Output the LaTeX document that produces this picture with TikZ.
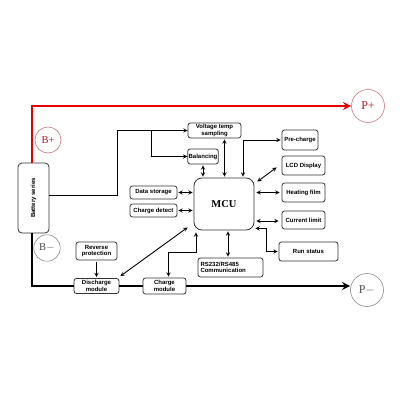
\documentclass[tikz,border=0pt]{standalone}
\usepackage{fontspec}
\setmainfont{Liberation Serif}
\newfontfamily\boxfont{Liberation Sans}
\usepackage{tikz}

\definecolor{plusred}{RGB}{170,30,45}
\definecolor{ringred}{RGB}{200,120,130}

\begin{document}
\begin{tikzpicture}[x=1pt,y=-1pt,>=stealth,
		box/.style={draw=black!80, line width=0.8pt, rounded corners=2.5pt, inner sep=1pt, align=center, font=\boxfont\fontsize{6}{6.5}\selectfont\bfseries},
		ring/.style={draw, circle, line width=0.6pt},
		link/.style={line width=0.9pt},
		rail/.style={line width=2.6pt}]
		\useasboundingbox (0,0) rectangle (400,400);
		% terminals
		\node[ring, draw=ringred, minimum size=26pt, text=plusred, font=\fontsize{10.5}{10}\selectfont] (bplus) at (48,140) {B+};
		\node[ring, draw=black!45, minimum size=26pt, text=black!70, font=\fontsize{10.5}{10}\selectfont] (bminus) at (47,248) {B$-$};
		\node[ring, draw=ringred, minimum size=33pt, text=plusred, font=\fontsize{12}{12}\selectfont] (pplus) at (368,106) {P+};
		\node[ring, draw=black!45, minimum size=33pt, text=black!70, font=\fontsize{12}{12}\selectfont] (pminus) at (367,290) {P$-$};
		% blocks
		\node[box, minimum width=31pt, minimum height=70pt, rounded corners=4pt] (bat) at (33.5,198) {\rotatebox{90}{Battery series}};
		\node[box, minimum width=60pt, minimum height=52pt, rounded corners=8pt, font=\fontsize{10.5}{10}\selectfont\bfseries] (mcu) at (224,204) {MCU};
		\node[box, minimum width=53pt, minimum height=15pt] (vts) at (214.5,130.5) {Voltage temp\\sampling};
		\node[box, minimum width=28pt, minimum height=15pt] (bal) at (203,156.5) {Balancing};
		\node[box, minimum width=47pt, minimum height=13pt] (ds) at (153.5,192.5) {Data storage};
		\node[box, minimum width=47pt, minimum height=13pt] (cd) at (153.5,210.5) {Charge detect};
		\node[box, minimum width=36pt, minimum height=20pt] (pre) at (300,140) {Pre-charge};
		\node[box, minimum width=43pt, minimum height=19pt] (lcd) at (303.5,165.5) {LCD Display};
		\node[box, minimum width=43pt, minimum height=19pt] (heat) at (303.5,192.5) {Heating film};
		\node[box, minimum width=43pt, minimum height=18pt] (cur) at (303.5,220) {Current limit};
		\node[box, minimum width=59pt, minimum height=19pt] (run) at (308.5,251.5) {Run status};
		\node[box, minimum width=65pt, minimum height=19pt, align=left, text width=60pt] (rs) at (230.5,267.5) {RS232/RS485\\Communication};
		\node[box, minimum width=41pt, minimum height=18pt] (rev) at (96.5,251) {Reverse\\protection};
		\node[box, minimum width=45pt, minimum height=15pt] (dis) at (96.5,286) {Discharge\\module};
		\node[box, minimum width=43pt, minimum height=16pt] (chg) at (164.5,286) {Charge\\module};
		% power rails
		\draw[rail, red!90!black, ->] ([xshift=-1.5pt]bat.north) |- (pplus.west);
		\draw[rail] ([xshift=-1.5pt]bat.south) |- (dis.west);
		\draw[rail] (dis.east) -- (chg.west);
		\draw[rail, ->] (chg.east) -- (chg.east -| pminus.west);
		% sampling lines
		\draw[link, ->] ([yshift=3pt]bat.east) -- ++(68,0) |- (vts.west);
		\draw[link, ->] ([xshift=-36pt]vts.west) |- (bal.west);
		% MCU links
		\draw[link, <->] ([yshift=-1pt]bal.south) -- ([yshift=1pt]bal.south |- mcu.north);
		\draw[link, <->] ([xshift=10pt,yshift=-1pt]vts.south) -- ([xshift=10pt,yshift=1pt]vts.south |- mcu.north);
		\draw[link, <->] ([xshift=19pt,yshift=1pt]mcu.north) |- ([xshift=-1pt]pre.west);
		\draw[link, <->] ([xshift=3pt,yshift=-4pt]mcu.north east) -- ([xshift=-5pt,yshift=8pt]lcd.south west);
		\draw[link, <->] ([xshift=2pt]mcu.east |- heat.west) -- ([xshift=-2pt]heat.west);
		\draw[link, <->] ([xshift=2pt,yshift=-1pt]mcu.east |- cur.west) -- ([xshift=-3pt,yshift=-1pt]cur.west);
		\draw[link, <->] ([xshift=1pt,yshift=2pt]mcu.south east) -- ++(11,0) |- ([xshift=-1pt]run.west);
		\draw[link, <->] ([xshift=4pt,yshift=-1pt]mcu.south) -- ([xshift=4pt,yshift=1pt]mcu.south |- rs.north);
		\draw[link, <->] ([xshift=4pt,yshift=1pt]chg.north) -- ++(0,-24) -| ([xshift=-28pt,yshift=-2pt]mcu.south);
		\draw[link, <->] ([xshift=1pt,yshift=2pt]dis.north east) -- ([xshift=-6pt,yshift=3pt]mcu.south west);
		\draw[link, <->] ([xshift=1pt]ds.east) -- ([xshift=-1pt]ds.east -| mcu.west);
		\draw[link, <->] ([xshift=1pt]cd.east) -- ([xshift=-1pt]cd.east -| mcu.west);
		\draw[link, ->] ([yshift=-2pt]rev.south) -- ([yshift=1pt]rev.south |- dis.north);
	\end{tikzpicture}
\end{document}
